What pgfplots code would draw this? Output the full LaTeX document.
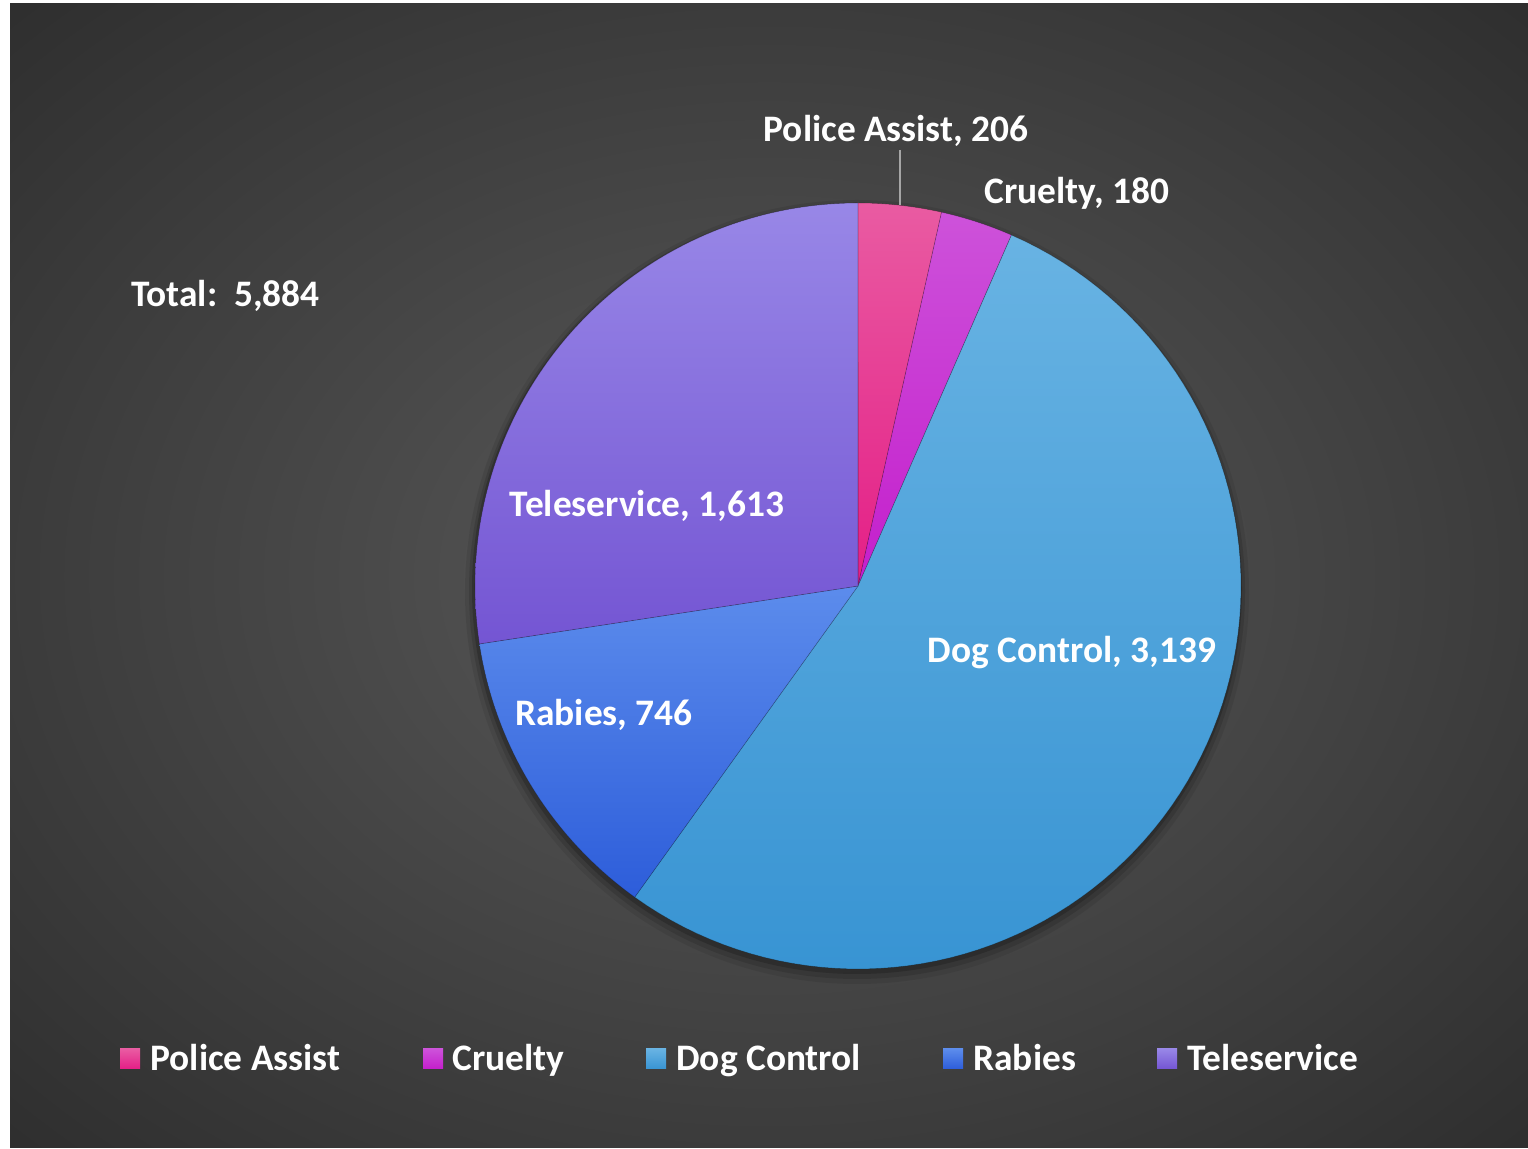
\documentclass[border=0pt]{standalone}
\usepackage{pgfplots}
\pgfplotsset{compat=1.18}
\usepackage{fontspec}
\setmainfont{Carlito}
\definecolor{bg0}{HTML}{575757}
\definecolor{bg1}{HTML}{505050}
\definecolor{bg2}{HTML}{3F3F3F}
\definecolor{bg3}{HTML}{2F2F2F}
\definecolor{bg4}{HTML}{262626}
\definecolor{bg5}{HTML}{222222}
\pgfdeclareradialshading{bgshade}{\pgfpoint{0bp}{0bp}}{color(0bp)=(bg0); color(8bp)=(bg1); color(22bp)=(bg2); color(35bp)=(bg3); color(50bp)=(bg4); color(71bp)=(bg5)}
\definecolor{paT}{HTML}{E95BA2}\definecolor{paB}{HTML}{E41E86}
\definecolor{crT}{HTML}{CD52DA}\definecolor{crB}{HTML}{C41ECC}
\definecolor{dcT}{HTML}{68B3E3}\definecolor{dcB}{HTML}{3894D3}
\definecolor{raT}{HTML}{5C8CEC}\definecolor{raB}{HTML}{2D5DDA}
\definecolor{teT}{HTML}{9887E7}\definecolor{teB}{HTML}{7455D3}
% data
\def\vA{206}\def\vB{180}\def\vC{3139}\def\vD{746}\def\vE{1613}
\pgfmathsetmacro\tot{\vA+\vB+\vC+\vD+\vE}
\pgfmathsetmacro\aA{90-\vA/\tot*360}
\pgfmathsetmacro\aB{\aA-\vB/\tot*360}
\pgfmathsetmacro\aC{\aB-\vC/\tot*360}
\pgfmathsetmacro\aD{\aC-\vD/\tot*360}
\pgfmathsetmacro\aE{\aD-\vE/\tot*360}
\newcommand\lbl{\fontsize{18.7bp}{22bp}\selectfont\bfseries}
\begin{document}
\begin{tikzpicture}
\begin{axis}[width=764bp,height=574.5bp,scale only axis,
  xmin=0,xmax=1528,ymin=0,ymax=1149,axis lines=none,xtick=\empty,ytick=\empty,clip=false,
  wedge/.style={draw=black,draw opacity=0.25,line width=0.3pt,samples=90}]
\fill[white] (axis cs:0,0) rectangle (axis cs:1528,1149);
\shade[shading=bgshade] (axis cs:10,1) rectangle (axis cs:1528,1145);
% shadow
\fill[black,opacity=0.08] (axis cs:857,557) circle[radius=196bp];
\fill[black,opacity=0.12] (axis cs:857,558) circle[radius=194bp];
\fill[black,opacity=0.18] (axis cs:857,560) circle[radius=192.5bp];
% wedges
\addplot[wedge,top color=paT,bottom color=paB,domain=\aA:90] ({858+383*cos(x)},{563+383*sin(x)}) -- (axis cs:858,563) -- cycle;
\addplot[wedge,top color=crT,bottom color=crB,domain=\aB:\aA] ({858+383*cos(x)},{563+383*sin(x)}) -- (axis cs:858,563) -- cycle;
\addplot[wedge,top color=dcT,bottom color=dcB,domain=\aC:\aB] ({858+383*cos(x)},{563+383*sin(x)}) -- (axis cs:858,563) -- cycle;
\addplot[wedge,top color=raT,bottom color=raB,domain=\aD:\aC] ({858+383*cos(x)},{563+383*sin(x)}) -- (axis cs:858,563) -- cycle;
\addplot[wedge,top color=teT,bottom color=teB,domain=\aE:\aD] ({858+383*cos(x)},{563+383*sin(x)}) -- (axis cs:858,563) -- cycle;
% leader
\draw[color=black!35!white,line width=1bp] (axis cs:900,999) -- (axis cs:900,944);
% labels
\begin{scope}[every node/.style={font=\lbl,text=white,inner sep=0pt}]
\node[anchor=base] at (axis cs:896,1007) {Police Assist, 206};
\node[anchor=base] at (axis cs:1077,945) {Cruelty, 180};
\node[anchor=base west] at (axis cs:131,842) {Total:\ \ 5,884};
\node[anchor=base] at (axis cs:647,632) {Teleservice, 1,613};
\node[anchor=base] at (axis cs:1072,486) {Dog Control, 3,139};
\node[anchor=base] at (axis cs:604,423) {Rabies, 746};
% legend
\shade[top color=paT,bottom color=paB] (axis cs:120,80) rectangle (axis cs:140,100);
\node[anchor=base west] at (axis cs:150,78) {Police Assist};
\shade[top color=crT,bottom color=crB] (axis cs:423,80) rectangle (axis cs:443,100);
\node[anchor=base west] at (axis cs:452,78) {Cruelty};
\shade[top color=dcT,bottom color=dcB] (axis cs:646,80) rectangle (axis cs:666,100);
\node[anchor=base west] at (axis cs:676,78) {Dog Control};
\shade[top color=raT,bottom color=raB] (axis cs:943,80) rectangle (axis cs:963,100);
\node[anchor=base west] at (axis cs:973,78) {Rabies};
\shade[top color=teT,bottom color=teB] (axis cs:1157,80) rectangle (axis cs:1177,100);
\node[anchor=base west] at (axis cs:1187,78) {Teleservice};
\end{scope}
\end{axis}
\end{tikzpicture}
\end{document}
